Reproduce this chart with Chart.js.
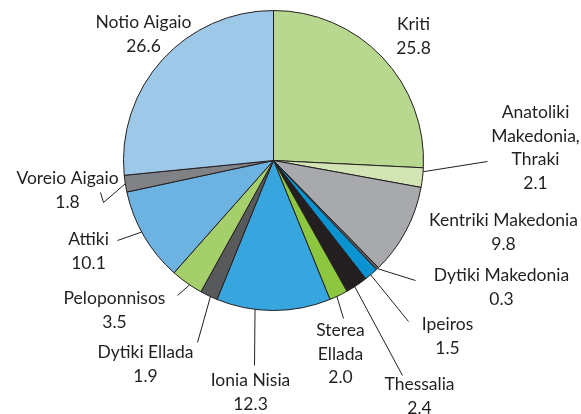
<!DOCTYPE html>
<html>
<head>
<meta charset="utf-8">
<script src="https://cdn.jsdelivr.net/npm/chart.js@4"></script>
<style>
  html, body { margin: 0; padding: 0; background: #ffffff; }
  #wrap { width: 581px; height: 414px; }
</style>
</head>
<body>
<div id="wrap"><canvas id="pie" width="581" height="414"></canvas></div>
<script>
// Regional shares (%), clockwise from 12 o'clock
const regions = [
  'Kriti', 'Anatoliki Makedonia, Thraki', 'Kentriki Makedonia', 'Dytiki Makedonia',
  'Ipeiros', 'Thessalia', 'Sterea Ellada', 'Ionia Nisia', 'Dytiki Ellada',
  'Peloponnisos', 'Attiki', 'Voreio Aigaio', 'Notio Aigaio'
];
const shares = [25.8, 2.1, 9.8, 0.3, 1.5, 2.4, 2.0, 12.3, 1.9, 3.5, 10.1, 1.8, 26.6];
const sliceColors = [
  '#b9d88f', '#d3e5b5', '#a7a9ac', '#58595b',
  '#0a93d0', '#231f20', '#8dc63f', '#38a6de', '#58595b',
  '#a5cf6b', '#6db3e2', '#808285', '#9dc8e8'
];
// How each label is broken into lines (value is appended below)
const labelLines = [
  ['Kriti'], ['Anatoliki', 'Makedonia,', 'Thraki'], ['Kentriki Makedonia'], ['Dytiki Makedonia'],
  ['Ipeiros'], ['Thessalia'], ['Sterea', 'Ellada'], ['Ionia Nisia'], ['Dytiki Ellada'],
  ['Peloponnisos'], ['Attiki'], ['Voreio Aigaio'], ['Notio Aigaio']
];

// Label placement relative to the pie centre: text centre of first line,
// where along the slice the leader leaves the rim (0 = start, 1 = end),
// and the leader path (null = no leader).
const labelSpots = [
  { x: 140, y: -136, at: 0.5, leader: null },
  { x: 262, y: -48, at: 0.2, leader: [[214, 1]] },
  { x: 230, y: 60, at: 0.5, leader: null },
  { x: 228, y: 115, at: 0.5, leader: [[142, 120]] },
  { x: 174, y: 164, at: 0.55, leader: [[135, 161]] },
  { x: 146, y: 224, at: 0.6, leader: [[129, 215]] },
  { x: 67, y: 170, at: 0.6, leader: [[70, 158]] },
  { x: -23, y: 220, at: 0.66, leader: [[-19, 205]] },
  { x: -128, y: 192, at: 0.4, leader: [[-76, 182]] },
  { x: -159, y: 138, at: 0.4, leader: [[-96, 135]] },
  { x: -185, y: 79, at: 0.55, leader: [[-156, 80]] },
  { x: -206, y: 18, at: 0.5, leader: [[-170, 42], [-173, 32]] },
  { x: -130, y: -138, at: 0.5, leader: null }
];

const LINE_H = 23.5;
const TEXT_COLOR = '#231f20';

const calloutPlugin = {
  id: 'callouts',
  afterDatasetsDraw(chart) {
    const ctx = chart.ctx;
    const arcs = chart.getDatasetMeta(0).data;
    ctx.save();
    ctx.font = '17.5px Lato, "Open Sans", sans-serif';
    ctx.fillStyle = TEXT_COLOR;
    ctx.strokeStyle = TEXT_COLOR;
    ctx.lineWidth = 1;
    ctx.textAlign = 'center';
    ctx.textBaseline = 'middle';
    arcs.forEach((arc, i) => {
      const { x: cx, y: cy, startAngle, endAngle, outerRadius } = arc.getProps(
        ['x', 'y', 'startAngle', 'endAngle', 'outerRadius'], true);
      const spot = labelSpots[i];
      if (spot.leader) {
        const a = startAngle + (endAngle - startAngle) * spot.at;
        ctx.beginPath();
        ctx.moveTo(cx + Math.cos(a) * outerRadius, cy + Math.sin(a) * outerRadius);
        spot.leader.forEach(p => ctx.lineTo(cx + p[0], cy + p[1]));
        ctx.stroke();
      }
      const lines = labelLines[i].concat([shares[i].toFixed(1)]);
      lines.forEach((t, k) => {
        ctx.fillText(t, cx + spot.x, cy + spot.y + k * LINE_H);
      });
    });
    ctx.restore();
  }
};

new Chart(document.getElementById('pie'), {
  type: 'pie',
  data: {
    labels: regions,
    datasets: [{
      data: shares,
      backgroundColor: sliceColors,
      borderColor: '#231f20',
      borderWidth: 1,
      hoverOffset: 0
    }]
  },
  options: {
    responsive: false,
    animation: false,
    events: [],
    layout: { padding: { left: 123, right: 157, top: 10, bottom: 103 } },
    plugins: {
      legend: { display: false },
      tooltip: { enabled: false }
    }
  },
  plugins: [calloutPlugin]
});
</script>
</body>
</html>
